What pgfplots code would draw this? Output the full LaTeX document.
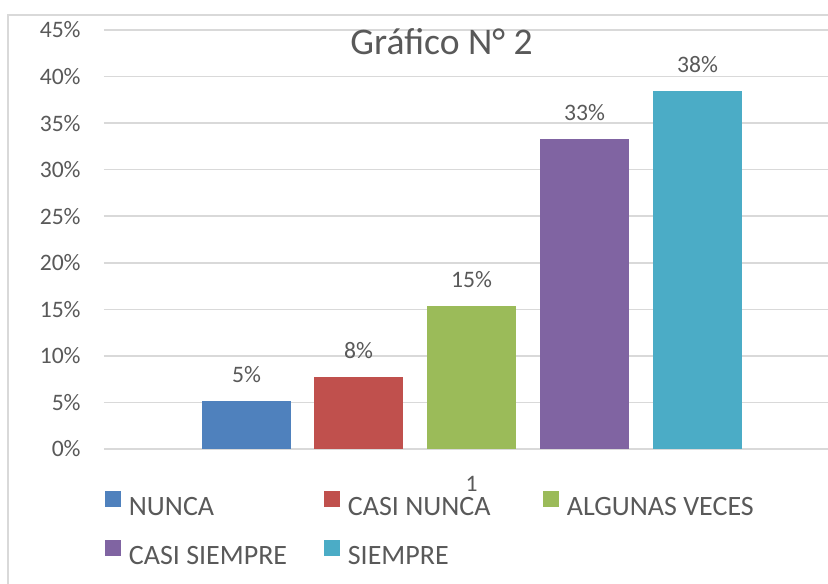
\documentclass[border=0pt]{standalone}
\usepackage{fontspec}
\setmainfont{Carlito}
\usepackage{pgfplots}
\pgfplotsset{compat=1.18}
\definecolor{txt}{HTML}{595959}
\definecolor{gridc}{HTML}{D9D9D9}
\definecolor{nunca}{HTML}{4F81BD}
\definecolor{casinunca}{HTML}{C0504D}
\definecolor{algunas}{HTML}{9BBB59}
\definecolor{casisiempre}{HTML}{8064A2}
\definecolor{siempre}{HTML}{4BACC6}

\begin{document}
\begin{tikzpicture}
  \begin{axis}[
    scale only axis,
    width=362pt, height=209.5pt,
    xmin=104, xmax=828,
    ymin=0, ymax=45,
    ytick={0,5,...,45},
    xtick={471.5}, xticklabels={1},
    ymajorgrids=true,
    grid style={color=gridc, line width=0.75pt},
    axis line style={draw=none},
    major tick length=0pt,
    tick label style={font=\fontsize{11.8}{13}\selectfont, text=txt, inner sep=0pt},
    /pgf/number format/assume math mode=true,
    yticklabel={\pgfmathprintnumber{\tick}\%},
    yticklabel style={anchor=east, xshift=-11.5pt},
    xticklabel style={anchor=north, yshift=-13.5pt},
    title={Gráfico N° 2},
    title style={at={(axis description cs:0.4662,0.912)}, anchor=base,
      font=\fontsize{18.8}{22}\selectfont, text=txt, inner sep=0pt},
    legend columns=3,
    legend style={at={(axis description cs:0.00138,-0.100)}, anchor=north west,
      draw=none, fill=none, inner sep=0pt, row sep=10.5pt, column sep=0pt,
      font=\fontsize{14}{16}\selectfont, text=txt, nodes={inner sep=0pt}},
    sq/.style={ybar, bar shift=0pt, bar width=89, draw=none,
      legend image code/.code={\fill[##1] (0pt,0.5pt) rectangle (8pt,8.5pt); \path (11.75pt,0pt);}},
    nodes near coords={\pgfmathprintnumber[fixed,precision=0]{\pgfplotspointmeta}\%},
    nodes near coords style={font=\fontsize{11.8}{13}\selectfont, text=txt,
      anchor=south, inner sep=0pt, yshift=9pt},
  ]
  % shares of answers (%), bars placed at their pixel centres
  \addplot[sq, fill=nunca] coordinates {(246.5,5.13)};
  \addplot[sq, fill=casinunca] coordinates {(358.5,7.69)};
  \addplot[sq, fill=algunas] coordinates {(471.5,15.38)};
  \addplot[sq, fill=casisiempre] coordinates {(584.5,33.33)};
  \addplot[sq, fill=siempre] coordinates {(697.5,38.46)};
  \legend{\makebox[97.75pt][l]{NUNCA}, \makebox[97.75pt][l]{CASI NUNCA},
    \makebox[97.75pt][l]{ALGUNAS VECES}, \makebox[97.75pt][l]{CASI SIEMPRE},
    \makebox[97.75pt][l]{SIEMPRE}}
  \end{axis}
  % chart area border
  \draw[gridc, line width=0.75pt] (-48pt,-90pt) -- (-48pt,217pt) -- (380pt,217pt);
  \pgfresetboundingbox
  \path[use as bounding box] (-52pt,-67pt) rectangle (362pt,224.5pt);
\end{tikzpicture}
\end{document}
